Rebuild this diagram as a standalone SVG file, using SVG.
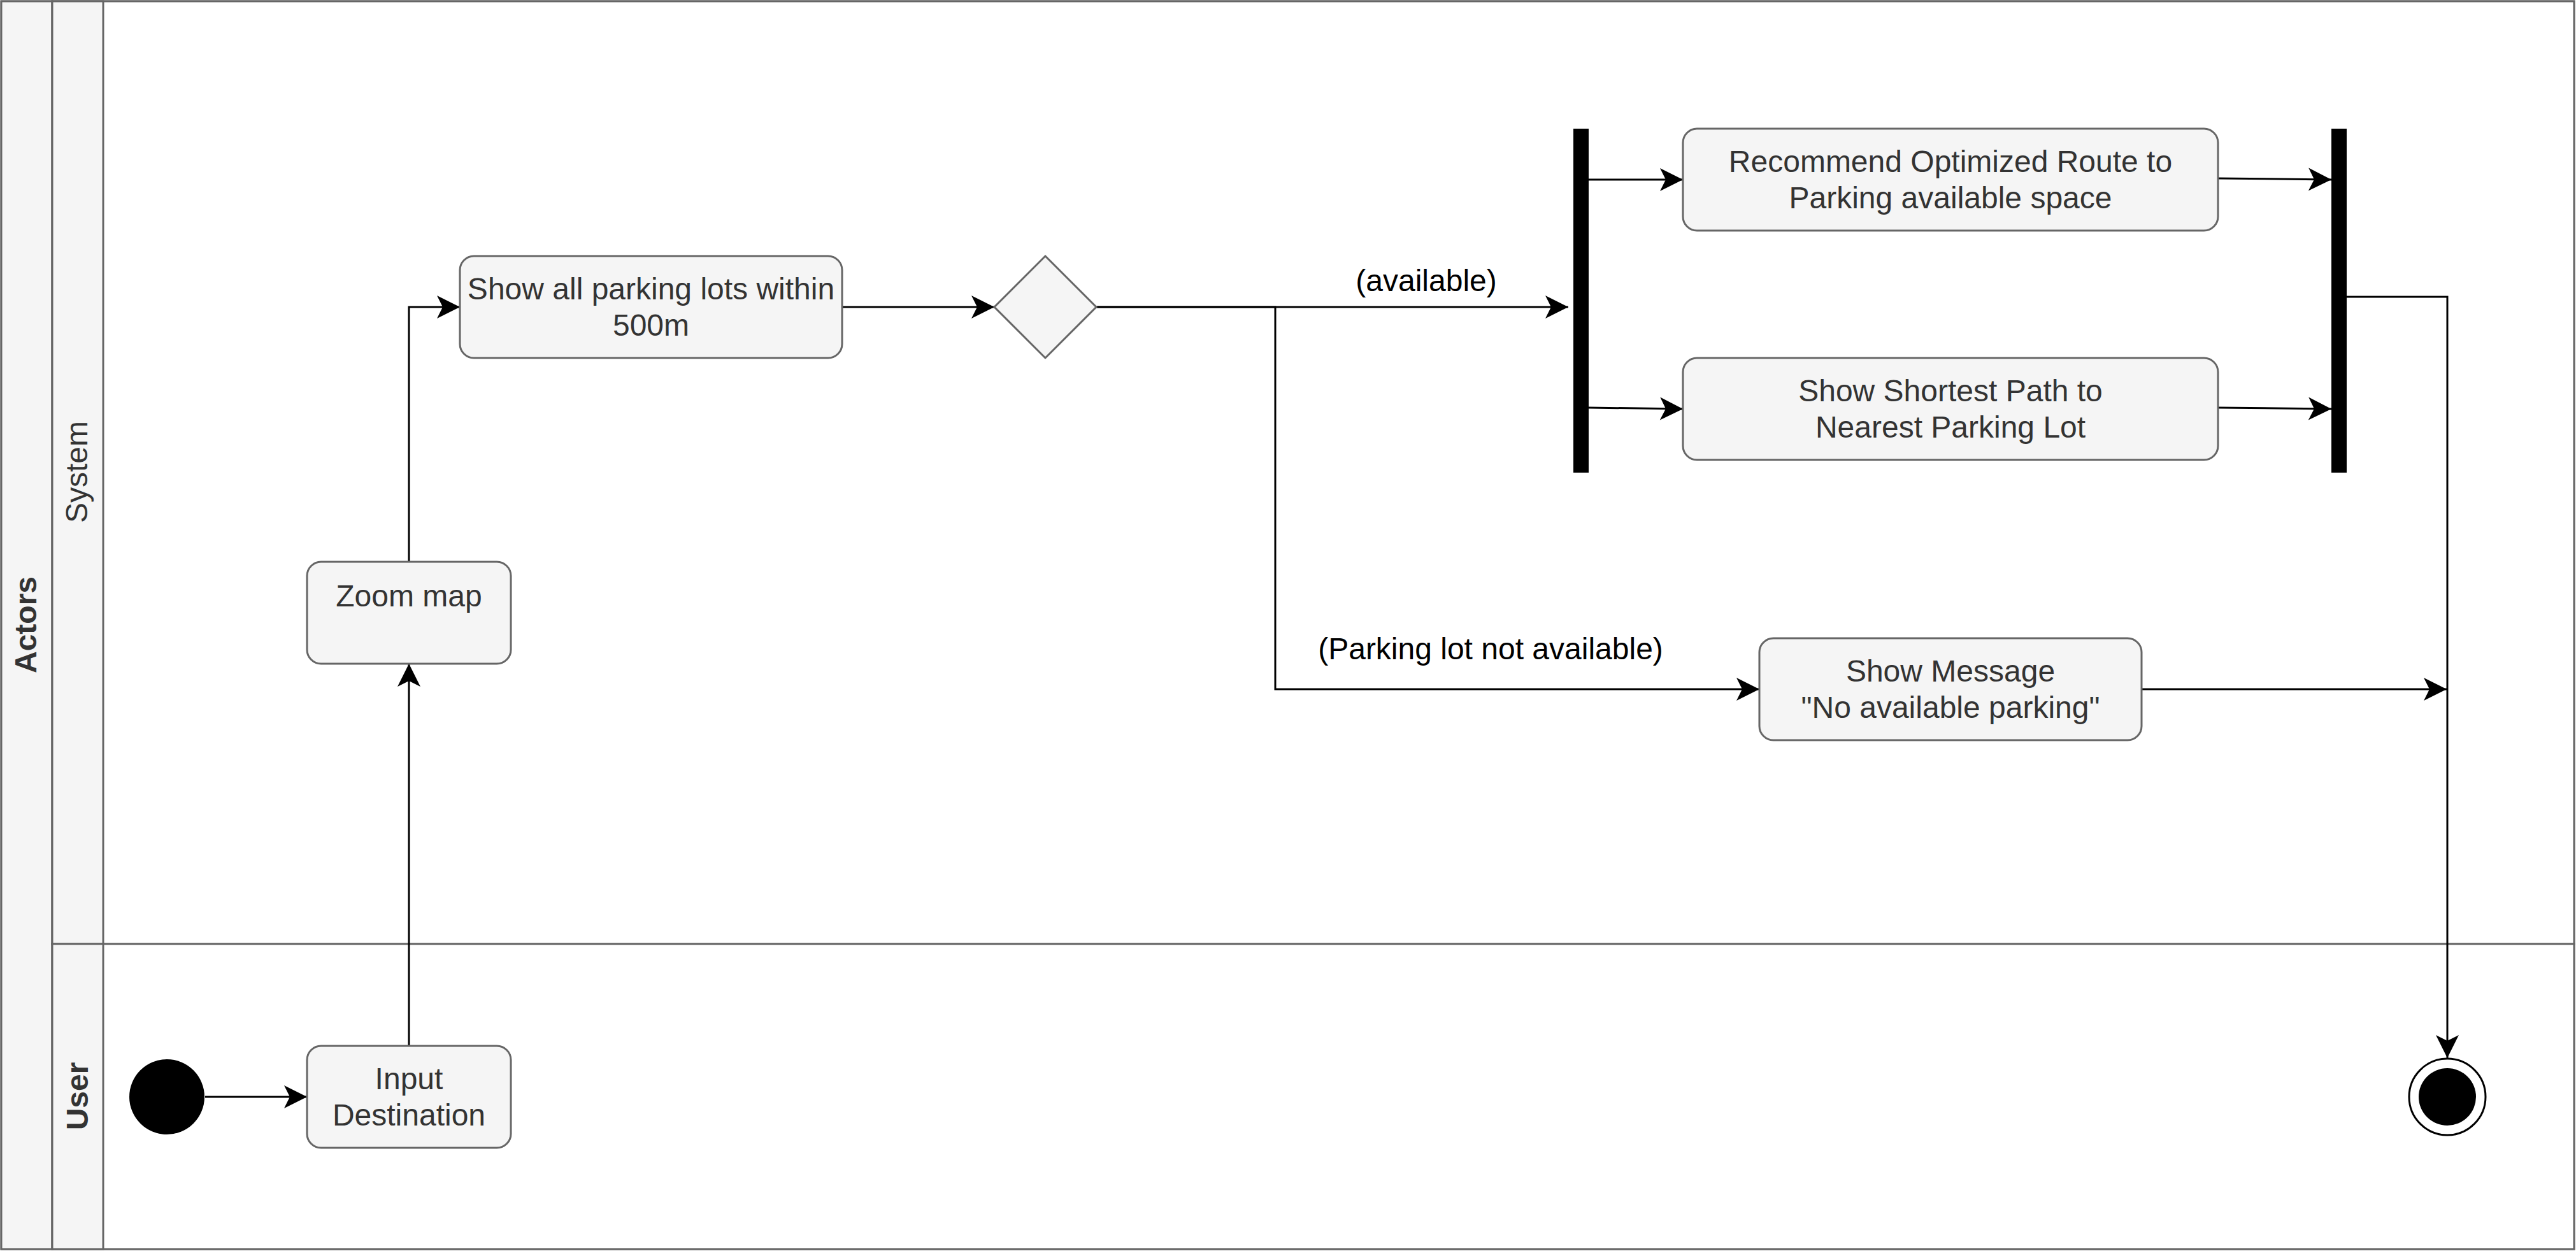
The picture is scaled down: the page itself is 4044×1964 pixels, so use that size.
<svg xmlns="http://www.w3.org/2000/svg" width="4044" height="1964" viewBox="0 0 4044 1964">
  <style>
    .lane { fill: #f5f5f5; stroke: #666666; stroke-width: 3; }
    .area { fill: #ffffff; stroke: #666666; stroke-width: 3; }
    .node { fill: #f5f5f5; stroke: #666666; stroke-width: 3; }
    .txt { font-family: "Liberation Sans", Arial, Helvetica, sans-serif; font-size: 48px; fill: #333333; text-anchor: middle; }
    .bold { font-weight: bold; }
    .lbl { font-family: "Liberation Sans", Arial, Helvetica, sans-serif; font-size: 48px; fill: #000000; text-anchor: middle; }
    .edge { fill: none; stroke: #000000; stroke-width: 3; marker-end: url(#arrow); }
    .bar { fill: #000000; stroke: none; }
  </style>
  <defs>
    <marker id="arrow" markerUnits="userSpaceOnUse" markerWidth="40" markerHeight="40" viewBox="-38 -20 40 40" refX="0" refY="0" orient="auto">
      <path d="M0,0 L-36,-18 L-27,0 L-36,18 Z" fill="#000000"/>
    </marker>
  </defs>
  <rect width="4044" height="1964" fill="#ffffff"/>

  <g id="pool">
    <rect class="area" x="2" y="2" width="4039" height="1959"/>
    <rect class="lane" x="2" y="2" width="80" height="1959"/>
    <text class="txt bold" transform="translate(57,981) rotate(-90)">Actors</text>
  </g>
  <g id="lane-system">
    <rect class="area" x="82" y="2" width="3959" height="1480"/>
    <rect class="lane" x="82" y="2" width="80" height="1480"/>
    <text class="txt" transform="translate(137,741) rotate(-90)">System</text>
  </g>
  <g id="lane-user">
    <rect class="area" x="82" y="1482" width="3959" height="479"/>
    <rect class="lane" x="82" y="1482" width="80" height="479"/>
    <text class="txt bold" transform="translate(138,1721) rotate(-90)">User</text>
  </g>

  <g id="connectors">
    <path class="edge" d="M322,1722 H482"/>
    <path class="edge" d="M642,1642 V1042"/>
    <path class="edge" d="M642,882 V482 H722"/>
    <path class="edge" d="M1322,482 H1561"/>
    <path class="edge" d="M1721,482 H2462"/>
    <text class="lbl" x="2239" y="457">(available)</text>
    <path class="edge" d="M1721,482 H2002 V1082 H2762"/>
    <text class="lbl" x="2340" y="1035">(Parking lot not available)</text>
    <path class="edge" d="M2494,282 H2642"/>
    <path class="edge" d="M2494,640 L2642,642"/>
    <path class="edge" d="M3482,280 L3660,282"/>
    <path class="edge" d="M3482,640 L3660,642"/>
    <path class="edge" d="M3684,466 H3842 V1661"/>
    <path class="edge" d="M3362,1082 H3841"/>
  </g>

  <g id="start">
    <circle cx="262" cy="1722" r="59" fill="#000000"/>
  </g>
  <g id="input-destination">
    <rect class="node" x="482" y="1642" width="320" height="160" rx="22" ry="22"/>
    <text class="txt" x="642" y="1710">Input</text>
    <text class="txt" x="642" y="1767">Destination</text>
  </g>
  <g id="zoom-map">
    <rect class="node" x="482" y="882" width="320" height="160" rx="22" ry="22"/>
    <text class="txt" x="642" y="952">Zoom map</text>
  </g>
  <g id="show-all">
    <rect class="node" x="722" y="402" width="600" height="160" rx="22" ry="22"/>
    <text class="txt" x="1022" y="470">Show all parking lots within</text>
    <text class="txt" x="1022" y="527">500m</text>
  </g>
  <g id="decision">
    <polygon class="node" points="1641,402 1721,482 1641,562 1561,482"/>
  </g>
  <g id="fork">
    <rect class="bar" x="2470" y="202" width="24" height="540"/>
  </g>
  <g id="recommend">
    <rect class="node" x="2642" y="202" width="840" height="160" rx="22" ry="22"/>
    <text class="txt" x="3062" y="270">Recommend Optimized Route to</text>
    <text class="txt" x="3062" y="327">Parking available space</text>
  </g>
  <g id="shortest">
    <rect class="node" x="2642" y="562" width="840" height="160" rx="22" ry="22"/>
    <text class="txt" x="3062" y="630">Show Shortest Path to</text>
    <text class="txt" x="3062" y="687">Nearest Parking Lot</text>
  </g>
  <g id="join">
    <rect class="bar" x="3660" y="202" width="24" height="540"/>
  </g>
  <g id="message">
    <rect class="node" x="2762" y="1002" width="600" height="160" rx="22" ry="22"/>
    <text class="txt" x="3062" y="1070">Show Message</text>
    <text class="txt" x="3062" y="1127">"No available parking"</text>
  </g>
  <g id="end">
    <circle cx="3842" cy="1722" r="60" fill="#ffffff" stroke="#000000" stroke-width="3"/>
    <circle cx="3842" cy="1722" r="45" fill="#000000"/>
  </g>
</svg>
